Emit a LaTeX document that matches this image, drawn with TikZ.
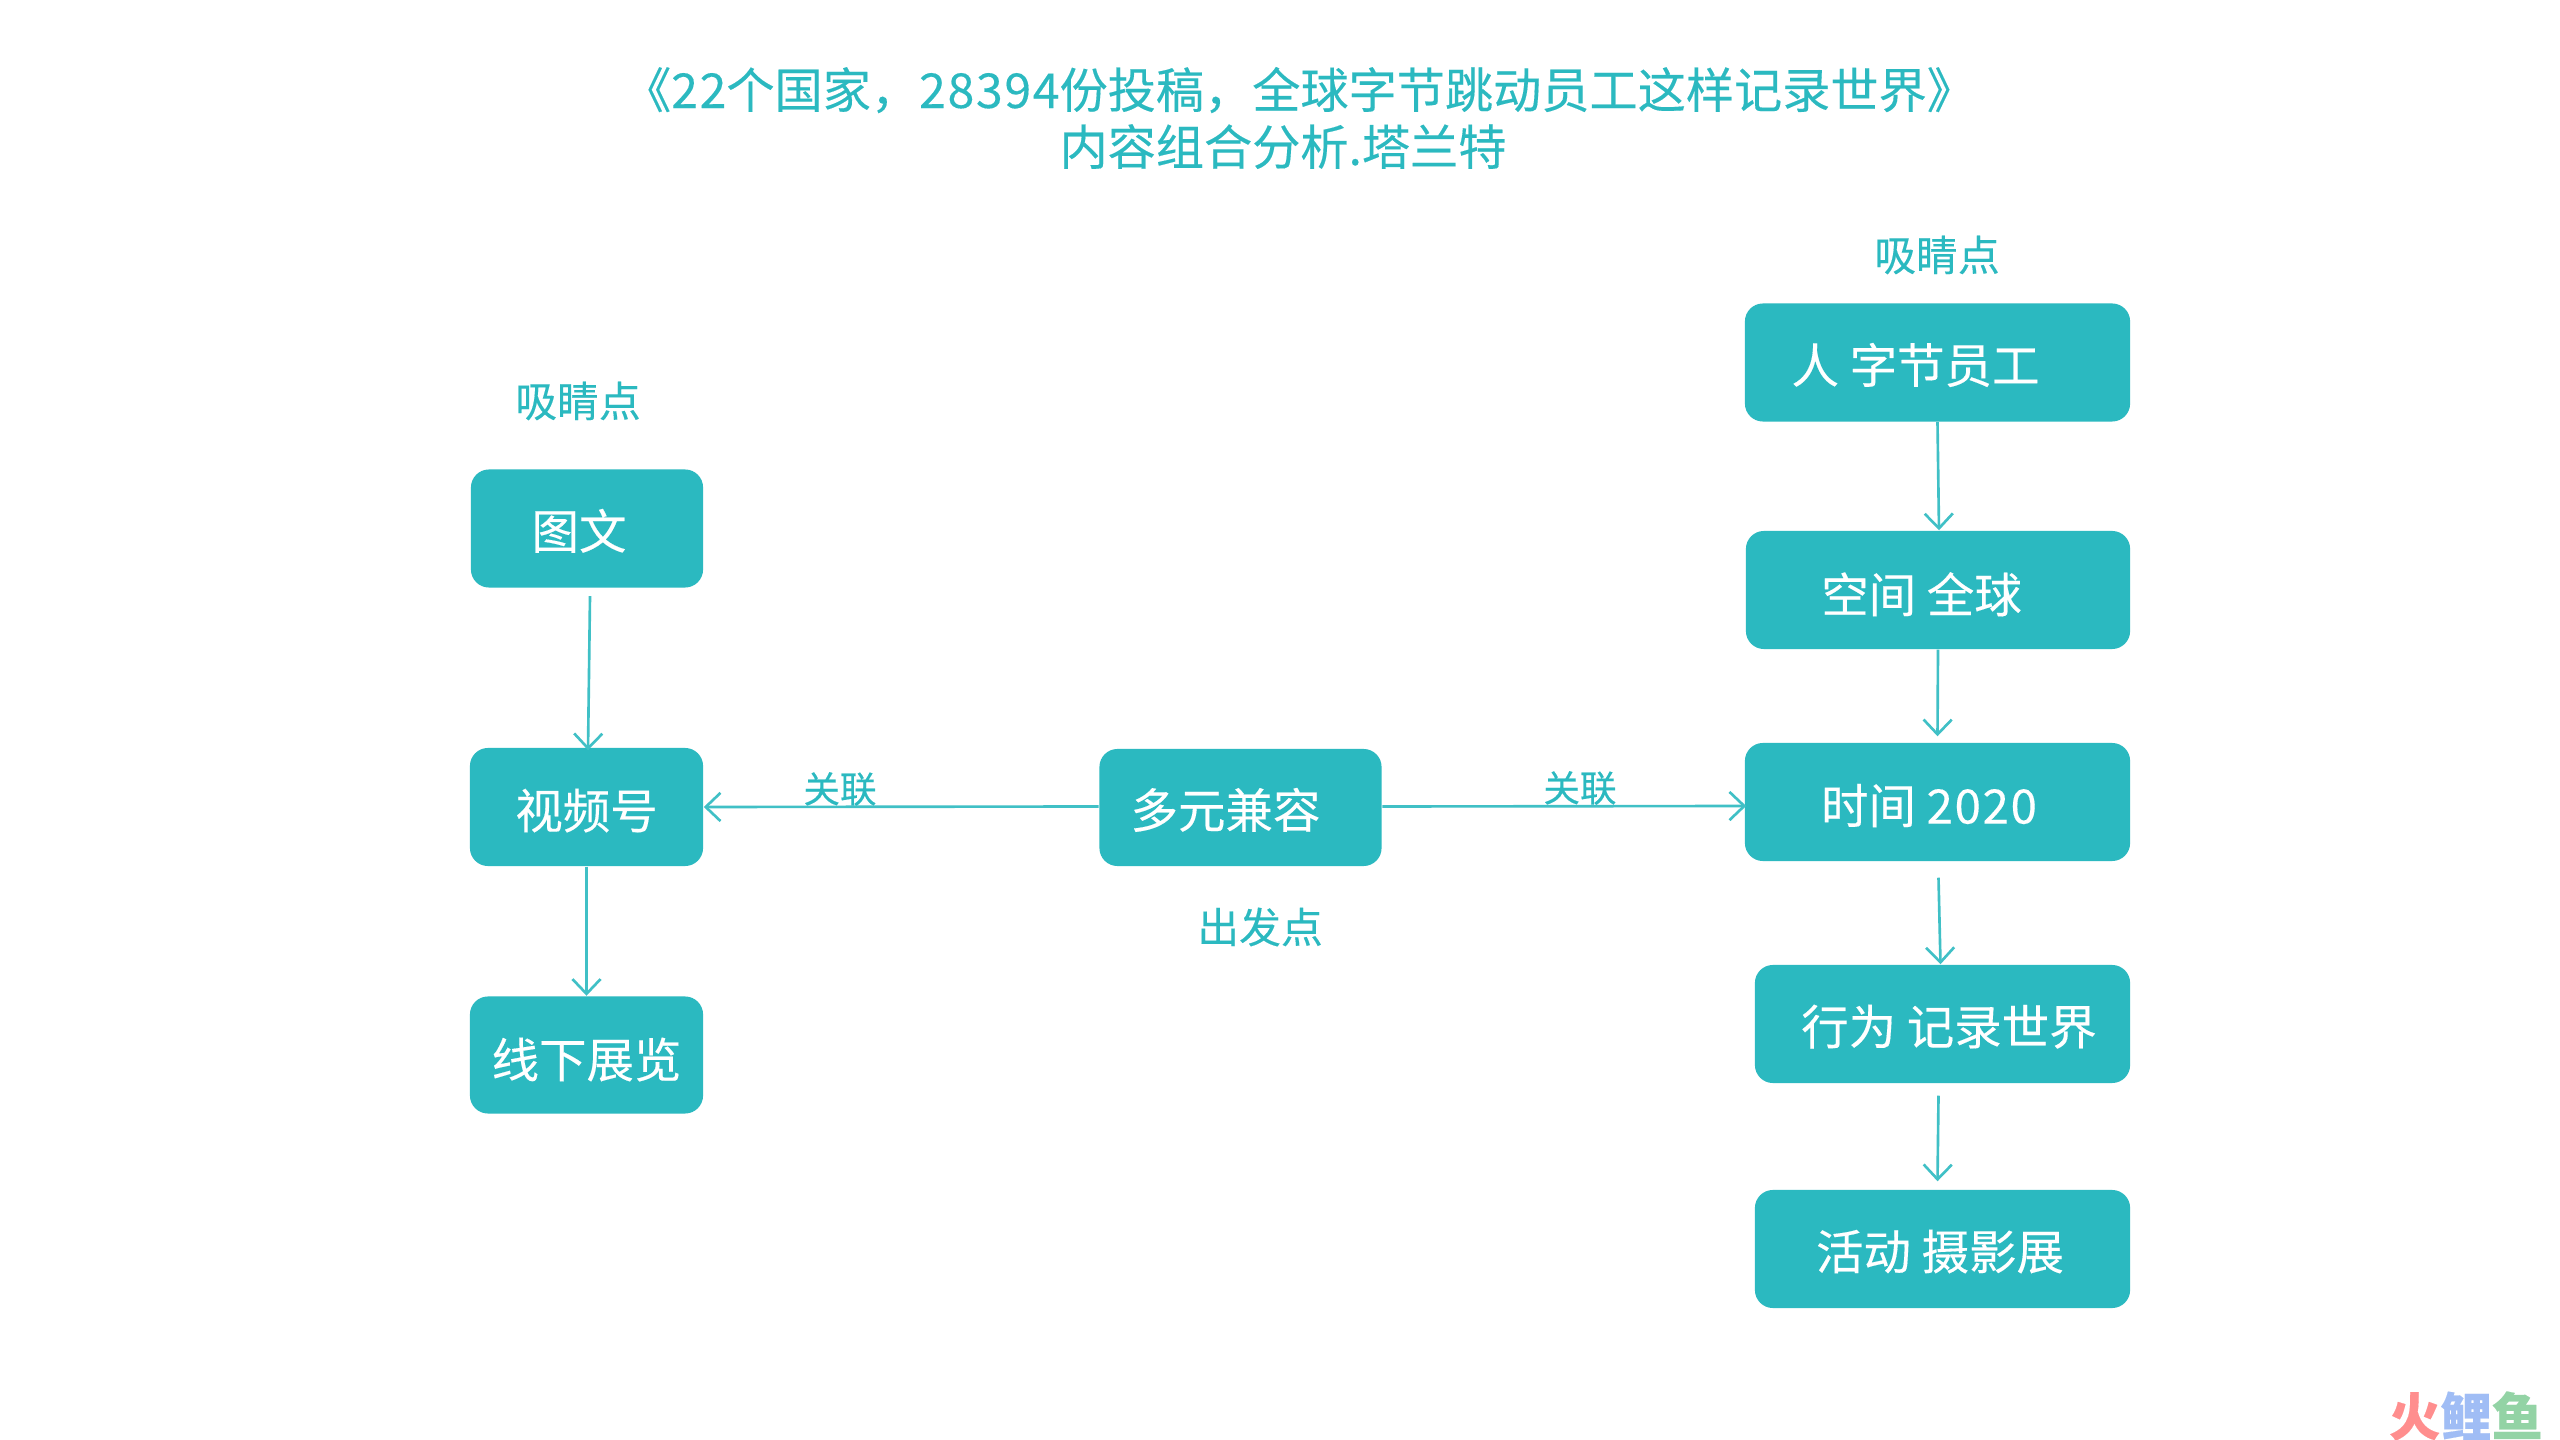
\documentclass[tikz,border=0pt]{standalone}
\usepackage{fontspec}
\setmainfont{Noto Sans CJK SC}[FakeBold=0.25]
\usetikzlibrary{arrows.meta,calc}
\definecolor{teal1}{HTML}{2BB9C0}
\definecolor{wmred}{HTML}{FF8E8E}
\definecolor{wmblue}{HTML}{A0BDF5}
\definecolor{wmgreen}{HTML}{93D3A5}
% px = 0.01cm = 0.28453pt
\newcommand\boxtxt[3]{\raisebox{\dimexpr-0.37em+#2\relax}[0pt][0pt]{\makebox[0pt][c]{\hspace*{#1}#3}}}
\newcommand\wdg[1]{{\addfontfeature{LetterSpace=3.5}#1}}
\tikzset{
  bx/.style={draw=none,fill=teal1,rounded corners=0.18cm,inner sep=0pt,text=white,
    font=\fontsize{13.5pt}{16pt}\selectfont},
  cap1/.style={inner sep=0pt,text=teal1,font=\fontsize{11.9pt}{14pt}\selectfont},
  lnk/.style={inner sep=0pt,text=teal1,font=\fontsize{10.4pt}{12pt}\selectfont},
  conn/.style={draw=teal1!90!white,line width=0.75pt,-{Straight Barb[length=4.2pt,width=8pt,line width=0.75pt]}},
}
\begin{document}
\begin{tikzpicture}[x=0.01cm,y=-0.01cm]
\useasboundingbox[fill=white] (0,0) rectangle (2560,1440);
% title
\node[inner sep=0pt,text=teal1,align=center,font=\fontsize{13.7pt}{16.2pt}\selectfont] (title) at (1299,118)
  {《\wdg{22}个国家，\wdg{28394}份投稿，全球字节跳动员工这样记录世界》\\\hspace*{-0.32cm}内容组合分析.塔兰特};
% left column
\node[bx,minimum width=2.32cm,minimum height=1.18cm] (tw) at (587,528.5) {\boxtxt{-0.16cm}{-0.03cm}{图文}};
\node[bx,minimum width=2.33cm,minimum height=1.18cm] (sph) at (586.5,807) {\boxtxt{0cm}{-0.04cm}{视频号}};
\node[bx,minimum width=2.33cm,minimum height=1.17cm] (xx) at (586.5,1055) {\boxtxt{0cm}{-0.05cm}{线下展览}};
% centre
\node[bx,minimum width=2.82cm,minimum height=1.17cm] (dy) at (1240.5,807.5) {\boxtxt{-0.30cm}{-0.03cm}{多元兼容}};
% right column
\node[bx,minimum width=3.85cm,minimum height=1.18cm] (r1) at (1937.5,362.5) {\boxtxt{-0.44cm}{-0.03cm}{人 字节员工}};
\node[bx,minimum width=3.84cm,minimum height=1.18cm] (r2) at (1938,590) {\boxtxt{-0.33cm}{-0.05cm}{空间 全球}};
\node[bx,minimum width=3.85cm,minimum height=1.18cm] (r3) at (1937.5,802) {\boxtxt{-0.17cm}{-0.04cm}{时间 \wdg{2020}}};
\node[bx,minimum width=3.75cm,minimum height=1.18cm] (r4) at (1942.5,1024) {\boxtxt{0.13cm}{-0.03cm}{行为 记录世界}};
\node[bx,minimum width=3.75cm,minimum height=1.18cm] (r5) at (1942.5,1249) {\boxtxt{-0.05cm}{-0.03cm}{活动 摄影展}};
% captions
\node[cap1] (c1) at (1937,255) {吸睛点};
\node[cap1] (c2) at (578,401) {吸睛点};
\node[cap1] (c3) at (1260,927) {出发点};
\node[lnk] (l1) at (840,789) {关联};
\node[lnk] (l2) at (1580,788) {关联};
% connectors
\draw[conn] (r1.south) -- ($(r2.north)+(1,0)$);
\draw[conn] (r2.south) -- ($(r3.north)+(0,-6)$);
\draw[conn] ($(r3.south)+(1,16)$) -- ($(r4.north)+(-2,0)$);
\draw[conn] ($(r4.south)+(-4,12)$) -- ($(r5.north)+(-5,-8)$);
\draw[conn] ($(tw.south)+(3,8)$) -- ($(sph.north)+(1.5,3)$);
\draw[conn] (sph.south) -- (xx.north);
\draw[conn] (dy.west) ++(0,-1) -- (sph.east);
\draw[conn] (dy.east) ++(0,-1) -- ($(r3.west)+(2,4)$);
% watermark
\node[inner sep=0pt,font=\fontsize{14.6pt}{16pt}\bfseries\selectfont] (wm) at (2466,1416)
  {\textcolor{wmred}{火}\textcolor{wmblue}{鲤}\textcolor{wmgreen}{鱼}};
\end{tikzpicture}
\end{document}
